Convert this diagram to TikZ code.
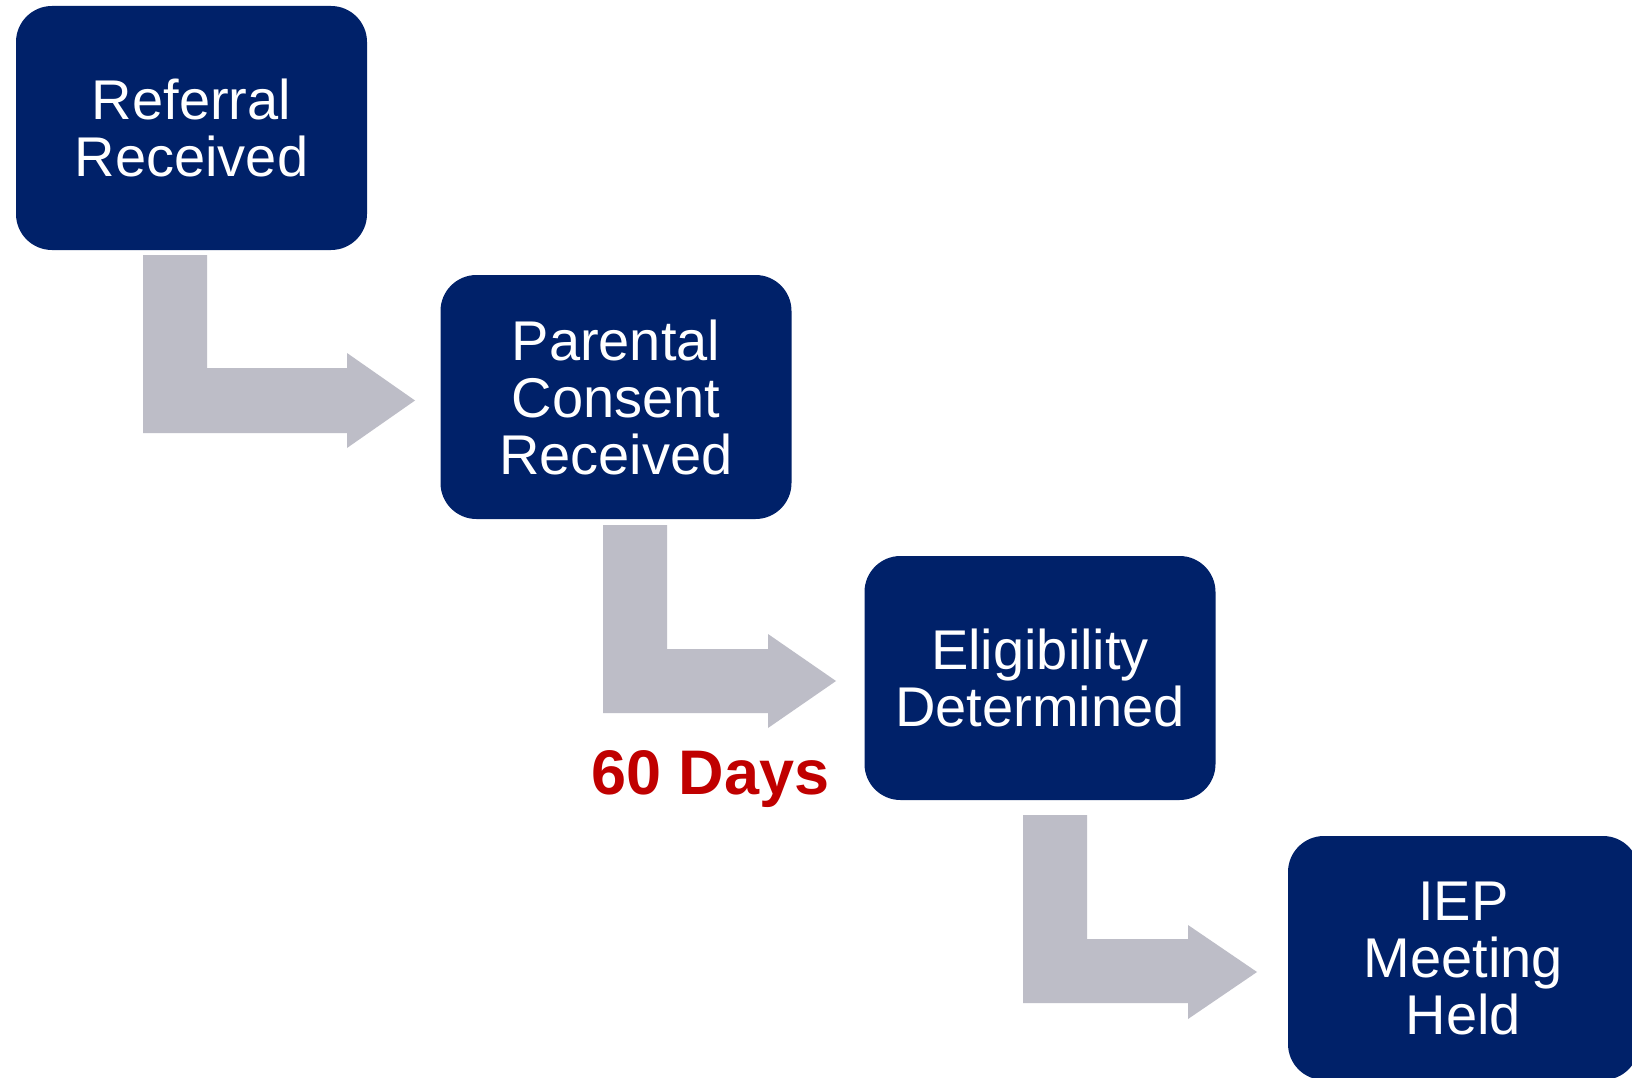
\documentclass[tikz,border=0pt]{standalone}
\usepackage{fontspec}
\setmainfont{Liberation Sans}
\definecolor{navy}{HTML}{002169}
\definecolor{arrowgray}{HTML}{BDBDC7}
\definecolor{dayred}{HTML}{C00000}
\begin{document}
\begin{tikzpicture}[x=1pt,y=-1pt,
  stepbox/.style={fill=navy, rounded corners=36pt, minimum width=351pt, minimum height=244pt,
    text=white, align=center, font=\fontsize{56}{57}\selectfont, inner sep=0pt},
  bentarrow/.style={fill=arrowgray}]
\useasboundingbox (0,0) rectangle (1632,1078);
\clip (0,0) rectangle (1632,1078);
\fill[white] (0,0) rectangle (1632,1078);
% boxes
\node[stepbox] (referral) at (191.5,128) {Referral\\Received};
\node[stepbox] (consent) at (616,397) {Parental\\Consent\\Received};
\node[stepbox] (eligibility) at (1040,678) {Eligibility\\Determined};
\node[stepbox] (iep) at (1463.5,958) {IEP\\Meeting\\Held};
% bent arrows
\fill[bentarrow] (143,255) -- (207,255) -- (207,368) -- (347,368) -- (347,353) -- (415,400.5)
  -- (347,448) -- (347,433) -- (143,433) -- cycle;
\fill[bentarrow] (603,525) -- (667,525) -- (667,649) -- (768,649) -- (768,634) -- (836,681)
  -- (768,728) -- (768,713) -- (603,713) -- cycle;
\fill[bentarrow] (1023,815) -- (1087,815) -- (1087,939) -- (1188,939) -- (1188,925) -- (1257,972)
  -- (1188,1019) -- (1188,1003) -- (1023,1003) -- cycle;
% label
\node[anchor=base, text=dayred, font=\fontsize{63}{65}\selectfont\bfseries, inner sep=0pt] (days) at (710.5,794) {60 Days};
\end{tikzpicture}
\end{document}
